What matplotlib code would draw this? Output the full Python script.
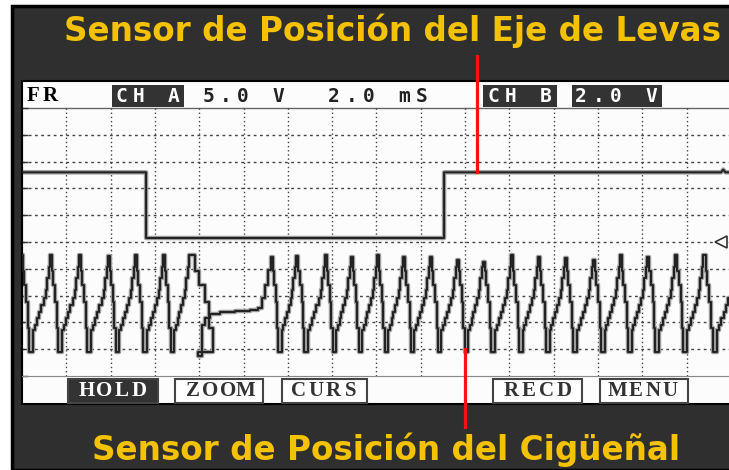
import matplotlib.pyplot as plt
from matplotlib.patches import Rectangle
from matplotlib.lines import Line2D

W, H = 729, 470

# Channel A - camshaft position sensor (5.0 V/div, ground on centre line)
cam_t = [0.0, 5.60, 5.60, 19.05, 19.05, 31.55, 31.65, 31.75, 32.0]
cam_v = [13.0, 13.0, 0.75, 0.75, 13.0, 13.0, 13.5, 13.0, 13.0]

# Channel B - crankshaft position sensor (2.0 V/div)
crank_peak_t = [-0.05, 1.26, 2.57, 3.88, 5.10, 6.37, 7.54, 11.24, 12.37, 13.68,
                14.85, 16.03, 17.20, 18.42, 19.64, 20.81, 22.08, 23.30, 24.51,
                25.78, 27.00, 28.22, 29.48, 30.75, 32.20]
crank_peak_v = [4.0, 4.0, 4.0, 3.95, 4.0, 4.0, 4.0, 3.9, 3.95, 4.0,
                3.9, 4.0, 3.9, 3.9, 3.65, 3.5, 4.0, 3.9, 3.8,
                3.65, 4.0, 3.9, 4.0, 4.0, 4.0]

# tooth profile around each peak, as a fraction of the tooth period
rise_phase = [-0.67, -0.62, -0.58, -0.51, -0.44, -0.37, -0.30, -0.22, -0.15, -0.11, -0.04]
rise_v = [-3.2, -3.2, -1.6, -1.2, -0.7, -0.2, 0.3, 0.8, 1.4, 2.3, 3.1]
fall_phase = [0.07, 0.12, 0.19, 0.24, 0.29]
fall_v = [2.8, 1.8, 0.5, -1.4, -3.2]

# missing-tooth gap (reference mark)
gap_t = [7.95, 8.04, 8.13, 8.26, 8.49, 8.94, 9.62, 10.29, 10.65, 10.84, 10.97, 11.11]
gap_v = [-3.5, -3.5, -1.2, -0.67, -0.37, -0.22, -0.15, -0.07, 0.07, 0.82, 1.79, 2.91]

ms_per_div = 2.0
cam_scale, cam_zero = 5.0, 5.0
crank_scale, crank_zero = 2.0, 2.5

# build crank trace
t_b, v_b = [], []
n = len(crank_peak_t)
for i, (p, pv) in enumerate(zip(crank_peak_t, crank_peak_v)):
    period_in = p - crank_peak_t[i - 1] if i > 0 else 1.27
    period_out = crank_peak_t[i + 1] - p if i < n - 1 else 1.27
    if period_in > 2.5:
        t_b += gap_t
        v_b += gap_v
    else:
        t_b += [p + f * period_in for f in rise_phase]
        v_b += rise_v
    t_b += [p, p + 0.04 * period_out]
    v_b += [pv, pv]
    t_b += [p + f * period_out for f in fall_phase]
    v_b += fall_v

fig = plt.figure(figsize=(W / 100, H / 100), dpi=100)
fig.patch.set_facecolor('white')


def fx(px):
    return px / W


def fy(py):
    return 1 - py / H


# dark frame and scope screen
fig.add_artist(Rectangle((fx(12), 0), fx(720), 1 - 6 / H, facecolor='#2f2f2f',
                         edgecolor='black', lw=2.5, zorder=-10))
fig.add_artist(Rectangle((fx(22), fy(404)), fx(720), 323 / H, facecolor='#fcfcfc',
                         edgecolor='black', lw=1.5, zorder=-9))
fig.add_artist(Line2D([fx(22), 1], [fy(107.5), fy(107.5)], color='#666666', lw=1, zorder=-8))

ax = fig.add_axes([fx(22), fy(376), fx(709), 268 / H])
ax.patch.set_alpha(0)
ax.set_xlim(0, 16 * ms_per_div)
ax.set_ylim(0, 10)
for x in range(1, 16):
    ax.axvline(x * ms_per_div, color='#444444', lw=1.0, ls=(0, (1, 2)), zorder=1)
for y in range(1, 10):
    ax.axhline(y, color='#444444', lw=1.0, ls=(0, (2, 2.5)), zorder=1)
ax.set_xticks([])
ax.set_yticks(range(11))
ax.tick_params(axis='y', direction='in', length=4, width=1, color='#333333',
               labelleft=False)
for side in ['top', 'right']:
    ax.spines[side].set_visible(False)
ax.spines['left'].set_linewidth(1.5)
ax.spines['bottom'].set_color('#888888')

cam_y = [cam_zero + v / cam_scale for v in cam_v]
crank_y = [crank_zero + v / crank_scale for v in v_b]
for xs, ys, ds in [(cam_t, cam_y, 'default'), (t_b, crank_y, 'steps-post')]:
    ax.plot(xs, ys, color='#9a9a9a', lw=3.2, drawstyle=ds, zorder=2)
    ax.plot(xs, ys, color='#202020', lw=1.4, drawstyle=ds, zorder=3)

# channel reference marker
ax.plot([31.55], [cam_zero], marker='<', ms=9, mfc='white', mec='#333333', mew=1.2,
        clip_on=False, zorder=4)

# pointers to the traces
ax.plot([20.54, 20.54], [cam_zero + cam_v[0] / cam_scale, 11.94], color='#ff1010',
        lw=2.3, clip_on=False, zorder=5)
ax.plot([20.0, 20.0], [crank_zero + rise_v[0] / crank_scale + 0.1, -1.9], color='#ff1010',
        lw=2.3, clip_on=False, zorder=5)


def chars(x0, py, s, pitch=17.5, **kw):
    for i, ch in enumerate(s):
        fig.text(fx(x0 + i * pitch), fy(py), ch, ha='center', va='center', **kw)


# status line
hdr = dict(family='DejaVu Sans Mono', fontweight='bold', fontsize=14)
for x0, x1 in [(112, 184), (483, 557), (572, 662)]:
    fig.add_artist(Rectangle((fx(x0), fy(107)), fx(x1 - x0), 22 / H,
                             facecolor='#333333', edgecolor='none', zorder=-7))
chars(33, 96, 'FR', pitch=17, color='black', family='Liberation Serif',
      fontweight='bold', fontsize=15)
chars(121, 96, 'CH A', color='white', **hdr)
chars(208, 96, '5.0 V', color='#222222', **hdr)
chars(334, 96, '2.0 mS', color='#222222', **hdr)
chars(493, 96, 'CH B', color='white', **hdr)
chars(581, 96, '2.0 V', color='white', **hdr)

# soft keys
btn = dict(family='Liberation Serif', fontweight='bold', fontsize=15)
for label, x0, x1, filled in [('HOLD', 68, 158, True), ('ZOOM', 175, 263, False),
                              ('CURS', 282, 367, False), ('RECD', 493, 582, False),
                              ('MENU', 600, 688, False)]:
    fig.add_artist(Rectangle((fx(x0), fy(403)), fx(x1 - x0), 24 / H,
                             facecolor='#333333' if filled else 'white',
                             edgecolor='#444444', lw=1.5, zorder=-7))
    c = (x0 + x1) / 2
    chars(c - 1.5 * 17.5, 391, label, color='white' if filled else '#333333', **btn)

title = dict(color='#f5c200', fontsize=23.5, fontweight='bold', ha='center', va='center')
fig.text(fx(393), fy(31), 'Sensor de Posición del Eje de Levas', **title)
fig.text(fx(386), fy(450), 'Sensor de Posición del Cigüeñal', **title)

fig.savefig('out.png', dpi=100)
